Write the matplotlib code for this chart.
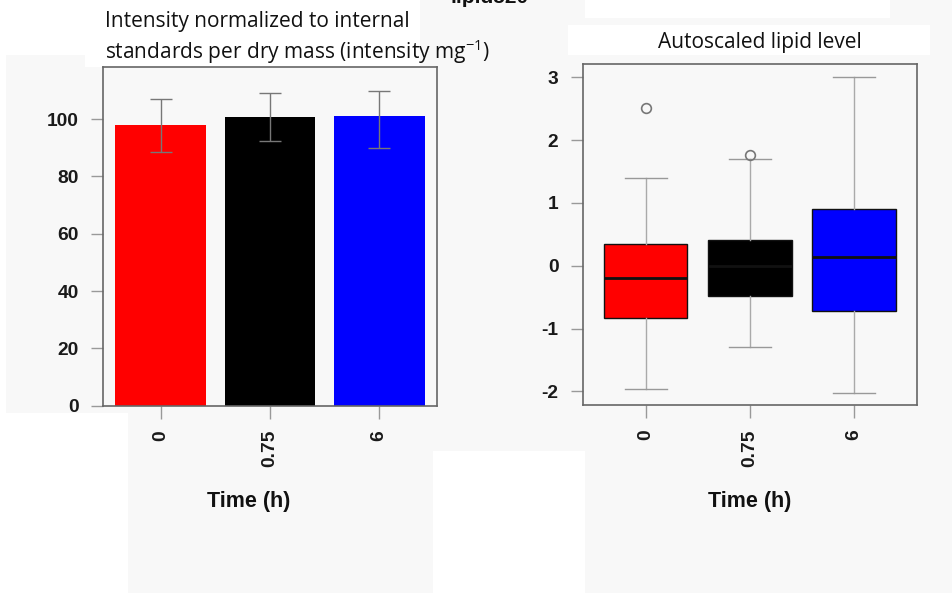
import matplotlib
matplotlib.use("Agg")
import matplotlib.pyplot as plt
from matplotlib.patches import Rectangle

plt.rcParams['axes.unicode_minus'] = False
plt.rcParams['mathtext.fontset'] = 'custom'
plt.rcParams['mathtext.rm'] = 'Open Sans'
plt.rcParams['mathtext.default'] = 'rm'

# data
times = ["0", "0.75", "6"]
colors = ["#ff0000", "#000000", "#0000ff"]

# left panel: mean intensity with error bars
intensity = [97.8, 100.7, 101.2]
err_low = [9.4, 8.3, 11.4]
err_high = [9.4, 8.3, 8.7]

# right panel: box plot stats of autoscaled level
q1 = [-0.83, -0.49, -0.72]
med = [-0.20, 0.0, 0.14]
q3 = [0.35, 0.41, 0.91]
whis_lo = [-1.96, -1.29, -2.02]
whis_hi = [1.40, 1.70, 3.01]
outliers = [[2.51], [1.77], []]

W, H = 952, 593
fig = plt.figure(figsize=(W / 100, H / 100), dpi=100)
fig.patch.set_facecolor("white")


def px_rect(x0, y0, x1, y1, color="#f8f8f8"):
    # background patches given in pixel coords (top-left origin)
    fig.patches.append(Rectangle((x0 / W, 1 - y1 / H), (x1 - x0) / W, (y1 - y0) / H,
                                 transform=fig.transFigure, facecolor=color,
                                 edgecolor="none", zorder=-10))


px_rect(6, 55, 85, 413)
px_rect(85, 67, 433, 413)
px_rect(420, 0, 433, 67)
px_rect(128, 413, 433, 593)
px_rect(433, 0, 585, 25)
px_rect(433, 25, 568, 55)
px_rect(433, 55, 585, 451)
px_rect(585, 18, 952, 25)
px_rect(585, 55, 952, 451)
px_rect(930, 0, 952, 55)
px_rect(890, 0, 952, 18)
px_rect(585, 451, 952, 593)

tick_font = dict(family="Liberation Sans", weight="bold", size=13.8)
spine_col = "#666666"


def style_axes(ax):
    ax.set_facecolor("none")
    for s in ax.spines.values():
        s.set_color(spine_col)
        s.set_linewidth(1.2)
    ax.tick_params(axis="both", length=9, width=1, color="#999999", pad=8.5,
                   labelcolor="#1a1a1a")
    for lab in ax.get_yticklabels():
        lab.set_fontproperties(tick_font)
    for lab in ax.get_xticklabels():
        lab.set_fontproperties(tick_font)
        lab.set_rotation(90)
        lab.set_va("top")
        lab.set_ha("center")


# ---- left: bar chart
ax1 = fig.add_axes([103 / W, 1 - 405.7 / H, 334 / W, 338.7 / H])
xpos = [0.7 + 1.2 * i for i in range(len(times))]
ax1.bar(xpos, intensity, width=1.0, color=colors, edgecolor="none", zorder=2)
ax1.errorbar(xpos, intensity, yerr=[err_low, err_high], fmt="none",
             ecolor="#777777", elinewidth=1, capsize=8, capthick=1, zorder=3)
ax1.set_xlim(0.064, 3.736)
ax1.set_ylim(0, 118.2)
ax1.set_yticks([0, 20, 40, 60, 80, 100])
ax1.set_xticks(xpos)
ax1.set_xticklabels(times)
style_axes(ax1)

# ---- right: box plot
ax2 = fig.add_axes([582.7 / W, 1 - 405 / H, 334 / W, 340.7 / H])
stats = []
for i in range(len(times)):
    stats.append(dict(med=med[i], q1=q1[i], q3=q3[i], whislo=whis_lo[i],
                      whishi=whis_hi[i], fliers=outliers[i]))
bp = ax2.bxp(stats, positions=[1, 2, 3], widths=0.8, patch_artist=True,
             boxprops=dict(edgecolor="#111111", linewidth=1),
             medianprops=dict(color="#111111", linewidth=2),
             whiskerprops=dict(color="#aaaaaa", linewidth=1),
             capprops=dict(color="#999999", linewidth=1),
             flierprops=dict(marker="o", markerfacecolor="none",
                             markeredgecolor="#777777", markersize=7,
                             markeredgewidth=1.2),
             capwidths=0.4)
for patch, c in zip(bp["boxes"], colors):
    patch.set_facecolor(c)
ax2.set_xlim(0.395, 3.60)
ax2.set_ylim(-2.218, 3.207)
ax2.set_yticks([-2, -1, 0, 1, 2, 3])
ax2.set_xticks([1, 2, 3])
ax2.set_xticklabels(times)
style_axes(ax2)

# ---- texts
lab_font = dict(family="Liberation Sans", weight="bold", size=15.5, color="#111111")
fig.text(249 / W, 1 - 502 / H, "Time (h)", ha="center", va="center", **lab_font)
fig.text(750 / W, 1 - 502 / H, "Time (h)", ha="center", va="center", **lab_font)

title_font = dict(family="Open Sans", size=15, color="#111111")
fig.text(105 / W, 1 - 27 / H, "Intensity normalized to internal",
         ha="left", va="baseline", **title_font)
fig.text(105 / W, 1 - 59 / H, "standards per dry mass (intensity mg$^{-1}$)",
         ha="left", va="baseline", **title_font)
fig.text(759.7 / W, 1 - 48 / H, "Autoscaled lipid level",
         ha="center", va="baseline", **title_font)

# main title, mostly cut off at the top edge
fig.text(490 / W, 1 - 3 / H, "lipid520", ha="center", va="baseline",
         family="Liberation Sans", weight="bold", size=15, color="#111111")

fig.savefig("out.png", dpi=100)
